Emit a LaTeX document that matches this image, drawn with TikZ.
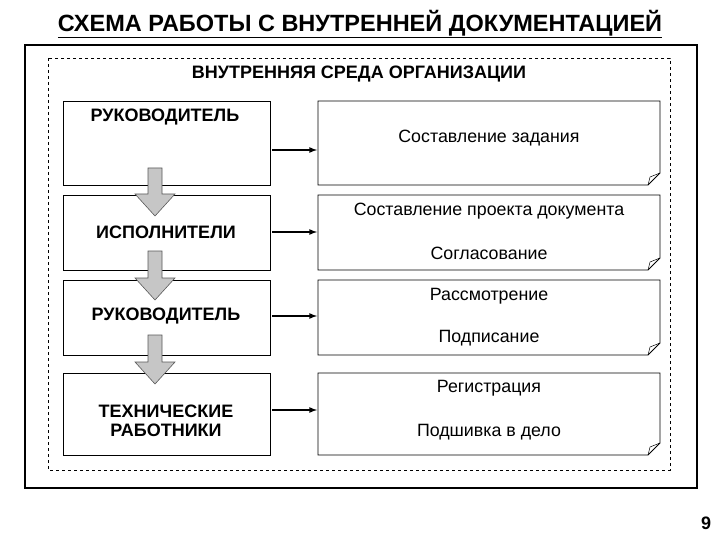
\documentclass[tikz,border=0pt]{standalone}
\usepackage{fontspec}
\setmainfont{Liberation Sans}
\begin{document}
\begin{tikzpicture}[x=1pt,y=-1pt,
  lbox/.style={draw,line width=0.8pt,fill=white},
  rtext/.style={font=\fontsize{17.8}{20}\selectfont},
  btext/.style={font=\bfseries\fontsize{18}{20}\selectfont,align=center},
  conn/.style={line width=1.6pt,-latex},
  garrow/.style={draw=gray!70!black,fill=gray!45,line width=0.6pt}]
\useasboundingbox (0,0) rectangle (720,540);
\node[font=\bfseries\fontsize{23.5}{26}\selectfont] (title) at (360,24) {\underline{СХЕМА РАБОТЫ С ВНУТРЕННЕЙ ДОКУМЕНТАЦИЕЙ}};
\draw[line width=2.2pt] (25,45) rectangle (697,488);
\draw[dashed,line width=0.6pt] (48,58) rectangle (670,470);
\node[btext] (env) at (359,74) {ВНУТРЕННЯЯ СРЕДА ОРГАНИЗАЦИИ};
% left boxes
\draw[lbox] (63,101) rectangle (270,185);
\draw[lbox] (63,195) rectangle (270,270);
\draw[lbox] (63,280) rectangle (270,355);
\draw[lbox] (63,373) rectangle (270,455);
% gray arrows
\foreach \a/\b in {168/216,251/300,335/384}{
  \draw[garrow] (148,\a) -- (162,\a) -- (162,\b-22) -- (175,\b-22) -- (155,\b) -- (135,\b-22) -- (148,\b-22) -- cycle;}
\node[btext] (l1) at (165,117) {РУКОВОДИТЕЛЬ};
\node[btext] (l2) at (166,232) {ИСПОЛНИТЕЛИ};
\node[btext] (l3) at (166,316) {РУКОВОДИТЕЛЬ};
\node[btext] (l4) at (166,421) {ТЕХНИЧЕСКИЕ\\[-1pt]РАБОТНИКИ};
% right boxes
\foreach \t/\bb/\n in {101/185/r1,195/270/r2,280/355/r3,373/455/r4}{
  \draw[lbox] (318,\t) -- (660,\t) -- (660,\bb-12) -- (648,\bb) -- (318,\bb) -- cycle;
  \draw[line width=0.5pt] (660,\bb-12) -- (650,\bb-8) -- (648,\bb);
  \coordinate (\n) at (318,{(\t+\bb)/2});}
\node[rtext] at (489,138) {Составление задания};
\node[rtext] at (489,211) {Составление проекта документа};
\node[rtext] at (489,253) {Согласование};
\node[rtext] at (489,296) {Рассмотрение};
\node[rtext] at (489,338) {Подписание};
\node[rtext] at (489,388) {Регистрация};
\node[rtext] at (489,432) {Подшивка в дело};
% connectors
\coordinate (s1) at (272,150); \coordinate (e1) at (317,150);
\coordinate (s2) at (272,232); \coordinate (e2) at (317,232);
\coordinate (s3) at (272,316); \coordinate (e3) at (317,316);
\coordinate (s4) at (272,410); \coordinate (e4) at (317,410);
\foreach \i in {1,2,3,4}{\draw[conn] (s\i) -- (e\i);}
\node[font=\bfseries\fontsize{18}{20}\selectfont] (pg) at (706,523) {9};
\end{tikzpicture}
\end{document}
